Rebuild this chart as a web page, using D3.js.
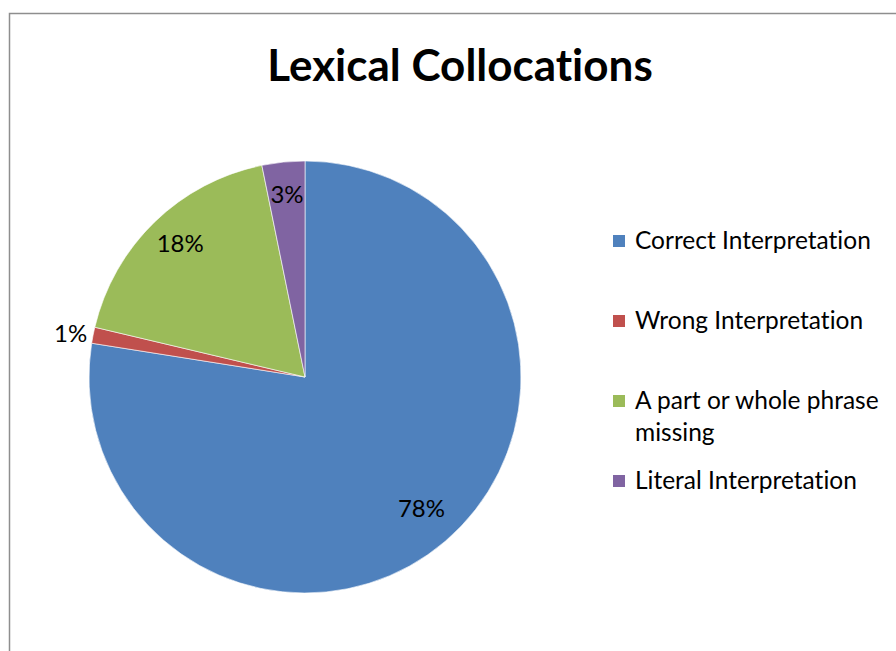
<!DOCTYPE html>
<html>
<head>
<meta charset="utf-8">
<script src="https://cdn.jsdelivr.net/npm/d3@7"></script>
<style>
  body { margin: 0; background: #fff; }
  text { font-family: Lato, "Open Sans", sans-serif; font-variant-ligatures: none; }
</style>
</head>
<body>
<div class="canvas"></div>
<script>
// data
const categories = ['Correct Interpretation', 'Wrong Interpretation', 'A part or whole phrase missing', 'Literal Interpretation'];
const values = [77.5, 1.2, 18.1, 3.2];
const pctLabels = ['78%', '1%', '18%', '3%'];
const legendLines = [['Correct Interpretation'], ['Wrong Interpretation'], ['A part or whole phrase', 'missing'], ['Literal Interpretation']];
const colors = ['#4F81BD', '#C0504D', '#9BBB59', '#8064A2'];

const svg = d3.select('.canvas')
  .append('svg')
    .attr('width', 896)
    .attr('height', 651);

// chart frame (runs off right & bottom)
svg.append('rect')
  .attr('x', 9.5).attr('y', 13.5)
  .attr('width', 900).attr('height', 700)
  .attr('fill', 'none')
  .attr('stroke', '#8e8e8e')
  .attr('stroke-width', 1.5);

svg.append('text')
  .attr('x', 460).attr('y', 81)
  .attr('text-anchor', 'middle')
  .attr('font-size', 44)
  .attr('font-weight', 'bold')
  .attr('fill', '#000')
  .text('Lexical Collocations');

const cx = 305, cy = 377, radius = 216;

const pie = d3.pie().sort(null).value(d => d);
const arc = d3.arc().innerRadius(0).outerRadius(radius);
const labelArc = d3.arc().innerRadius(radius * 0.83).outerRadius(radius * 0.83);

const graph = svg.append('g')
  .attr('transform', `translate(${cx}, ${cy})`);

const arcs = pie(values);

graph.selectAll('path')
  .data(arcs)
  .enter()
  .append('path')
    .attr('d', arc)
    .attr('fill', (d, i) => colors[i])
    .attr('stroke', '#fff')
    .attr('stroke-width', 0.6);

// percentage labels; tiny slices go outside
graph.selectAll('text.pct')
  .data(arcs)
  .enter()
  .append('text')
    .attr('class', 'pct')
    .attr('font-size', 24)
    .attr('fill', '#000')
    .attr('dy', '0.33em')
    .each(function(d, i) {
      const t = d3.select(this).text(pctLabels[i]);
      if (d.endAngle - d.startAngle < 0.02 * 2 * Math.PI) {
        const a = (d.startAngle + d.endAngle) / 2;
        t.attr('x', Math.sin(a) * (radius + 4) - 2)
         .attr('y', -Math.cos(a) * (radius + 4))
         .attr('text-anchor', 'end');
      } else {
        const [x, y] = labelArc.centroid(d);
        t.attr('x', x).attr('y', y - 4).attr('text-anchor', 'middle');
      }
    });

// legend
const rowY = [241, 321, 401, 481];
const legend = svg.append('g');
legendLines.forEach((lines, i) => {
  legend.append('rect')
    .attr('x', 613).attr('y', rowY[i] - 6)
    .attr('width', 12).attr('height', 12)
    .attr('fill', colors[i]);
  const t = legend.append('text')
    .attr('x', 635).attr('y', rowY[i])
    .attr('font-size', 24.5)
    .attr('fill', '#000')
    .attr('dy', '0.33em');
  lines.forEach((l, j) => {
    t.append('tspan').attr('x', 635).attr('dy', j === 0 ? '0.33em' : 32).text(l);
  });
});
</script>
</body>
</html>
